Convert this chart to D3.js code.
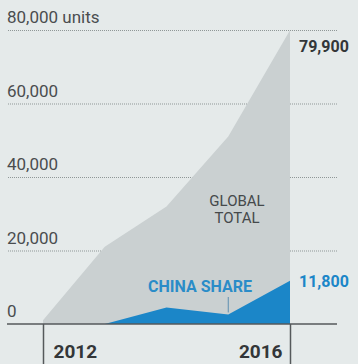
<!DOCTYPE html>
<html>
<head>
<meta charset="utf-8">
<script src="https://cdn.jsdelivr.net/npm/d3@7"></script>
<style>
  html, body { margin: 0; padding: 0; background: #e5eaea; }
  svg { display: block; }
  text { font-family: Roboto, "Noto Sans", sans-serif; }
</style>
</head>
<body>
<svg id="chart" width="358" height="364"></svg>
<script>
// Yearly units: worldwide total and the part sold in China
const years = [2012, 2013, 2014, 2015, 2016];
const globalTotal = [1000, 21000, 32000, 51000, 79900];
const chinaShare = [0, 0, 4500, 2600, 11800];

const yTicks = [0, 20000, 40000, 60000, 80000];
const yTickLabels = ["0", "20,000", "40,000", "60,000", "80,000 units"];
const xTicks = [2012, 2016];

const svg = d3.select("#chart");
const W = 358, H = 364;

const x = d3.scaleLinear().domain([2012, 2016]).range([43, 290]);
const y = d3.scaleLinear().domain([0, 80000]).range([324, 30]);

svg.append("rect").attr("width", W).attr("height", H).attr("fill", "#e5eaea");

// dotted gridlines
svg.append("g").selectAll("line")
  .data(yTicks.slice(1))
  .join("line")
  .attr("x1", 8).attr("x2", 337)
  .attr("y1", d => y(d) + 0.5).attr("y2", d => y(d) + 0.5)
  .attr("stroke", "#8f9797")
  .attr("stroke-width", 1)
  .attr("stroke-dasharray", "1,1");

// value labels above each gridline
svg.append("g").selectAll("text")
  .data(yTicks)
  .join("text")
  .attr("x", 7)
  .attr("y", d => y(d) - 7)
  .attr("font-size", 17)
  .attr("fill", "#4a4d4f")
  .text((d, i) => yTickLabels[i]);

const rows = years.map((yr, i) => ({ yr, total: globalTotal[i], china: chinaShare[i] }));

// global total area
svg.append("path")
  .datum(rows)
  .attr("fill", "#cad0d1")
  .attr("d", d3.area().x(d => x(d.yr)).y0(y(0)).y1(d => y(d.total)));

// China share area
svg.append("path")
  .datum(rows)
  .attr("fill", "#1b86c8")
  .attr("d", d3.area().x(d => x(d.yr)).y0(y(0)).y1(d => y(d.china)));

// area labels
const g = svg.append("g").attr("text-anchor", "middle").attr("fill", "#45494b").attr("font-size", 15);
g.append("text").attr("x", 237).attr("y", 206).text("GLOBAL");
g.append("text").attr("x", 237).attr("y", 223).text("TOTAL");

svg.append("text")
  .attr("x", 200).attr("y", 292)
  .attr("text-anchor", "middle")
  .attr("font-size", 16).attr("font-weight", 700)
  .attr("fill", "#2a8cc8")
  .text("CHINA SHARE");

// pointer from the label to the 2015 value
svg.append("line")
  .attr("x1", x(2015)).attr("x2", x(2015))
  .attr("y1", 297).attr("y2", y(chinaShare[3]) - 2)
  .attr("stroke", "#5e8fb0").attr("stroke-width", 1);

// end values
svg.append("text")
  .attr("x", 299).attr("y", y(globalTotal[4]) + 22)
  .attr("font-size", 16).attr("font-weight", 700)
  .attr("fill", "#333638")
  .text(d3.format(",")(globalTotal[4]));

svg.append("text")
  .attr("x", 299).attr("y", y(chinaShare[4]) + 6)
  .attr("font-size", 16).attr("font-weight", 700)
  .attr("fill", "#1b86c8")
  .text(d3.format(",")(chinaShare[4]));

// baseline
svg.append("line")
  .attr("x1", 7).attr("x2", 337)
  .attr("y1", y(0)).attr("y2", y(0))
  .attr("stroke", "#55595b").attr("stroke-width", 1.5);

// year axis
const xAxis = svg.append("g")
  .attr("transform", `translate(0,${y(0)})`)
  .call(d3.axisBottom(x).tickValues(xTicks).tickFormat(d3.format("d")).tickSize(40).tickPadding(0));
xAxis.select(".domain").remove();
xAxis.selectAll(".tick line").attr("stroke", "#55595b").attr("stroke-width", 1.5);
xAxis.selectAll(".tick text")
  .attr("font-family", "Roboto, sans-serif")
  .attr("font-size", 19).attr("font-weight", 700)
  .attr("fill", "#333638")
  .attr("dy", null)
  .attr("y", 34)
  .attr("x", (d, i) => i === 0 ? 10 : -8)
  .attr("text-anchor", (d, i) => i === 0 ? "start" : "end");
</script>
</body>
</html>
